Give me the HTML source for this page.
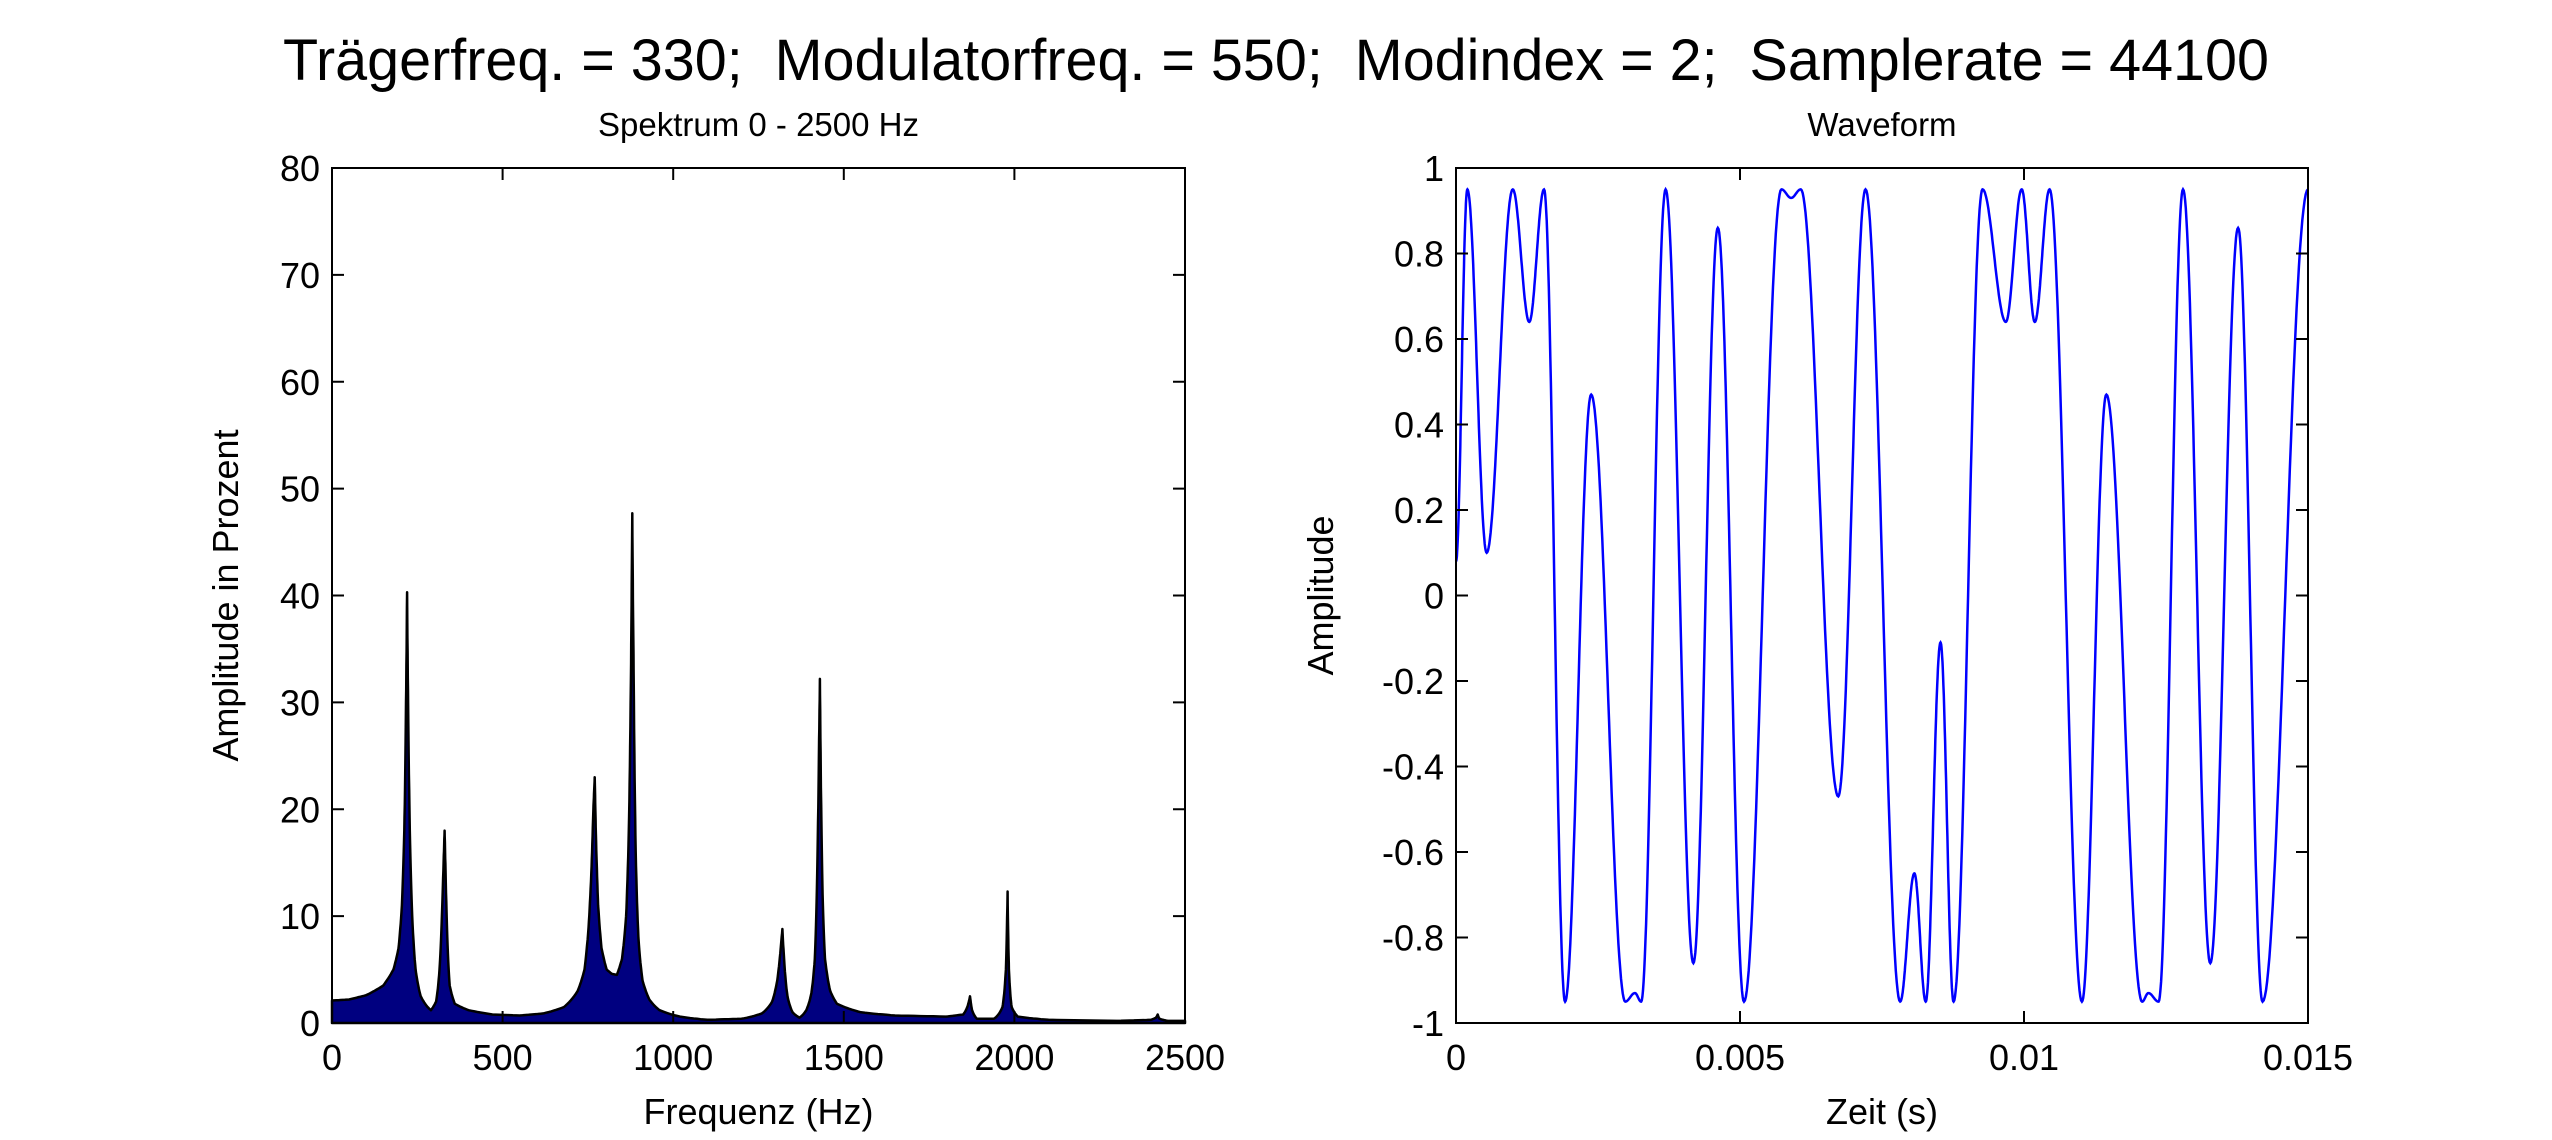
<!DOCTYPE html>
<html><head><meta charset="utf-8"><style>
html,body{margin:0;padding:0;background:#fff;}
svg{display:block;font-family:"Liberation Sans",sans-serif;}
</style></head><body>
<svg id="fig" width="2552" height="1140" viewBox="0 0 2552 1140" xmlns="http://www.w3.org/2000/svg">
<rect width="2552" height="1140" fill="#fff"/>
<text x="1276" y="80" font-size="58" text-anchor="middle" textLength="1986" lengthAdjust="spacingAndGlyphs">Trägerfreq. = 330;&#160; Modulatorfreq. = 550;&#160; Modindex = 2;&#160; Samplerate = 44100</text>
<g id="left"></g>
<g id="right"></g>
</svg>
<script>
// Spectrum data (Hz, percent)
const specFreq = [0,50,100,150,180,195,205,212,217,220,223,228,235,245,260,280,290,305,315,322,327,330,333,338,345,360,400,470,550,620,680,720,740,752,760,766,770,774,780,790,805,820,835,850,862,870,876,880,884,890,898,910,930,960,1020,1100,1200,1260,1290,1305,1315,1320,1325,1335,1350,1370,1390,1405,1415,1422,1427,1430,1433,1438,1445,1460,1480,1550,1650,1800,1850,1862,1870,1876,1890,1940,1965,1975,1980,1984,1992,2010,2100,2300,2400,2415,2420,2425,2450,2500];
const specAmp = [2.1,2.2,2.6,3.5,5,7,11,18,30,40.3,30,18,10,5,2.5,1.5,1.2,2,5,10,15,18,14,8,3.5,1.8,1.2,0.8,0.7,0.9,1.5,3,5,9,14,20,23,17,11,7,5,4.6,4.5,6,10,18,32,47.7,33,16,8,4,2.2,1.2,0.6,0.3,0.4,0.9,2,4,7,8.8,6,2.5,1,0.5,1.2,2.8,6,14,25,32.2,22,12,6,3,1.8,1,0.7,0.6,0.8,1.5,2.5,1.2,0.4,0.4,1.5,5,12.3,5,1.5,0.6,0.3,0.2,0.3,0.5,0.8,0.4,0.2,0.2];
const specXTicks = [0,500,1000,1500,2000,2500];
const specYTicks = [0,10,20,30,40,50,60,70,80];
// Waveform extrema (ms, amplitude)
const waveT = [0,0.20,0.54,1.00,1.29,1.55,1.92,2.38,2.98,3.15,3.26,3.69,4.18,4.61,5.07,5.73,5.90,6.07,6.73,7.21,7.82,8.07,8.27,8.53,8.76,9.27,9.68,9.96,10.19,10.45,11.02,11.45,12.08,12.19,12.37,12.80,13.28,13.77,14.20,15.0];
const waveY = [0.08,0.95,0.10,0.95,0.64,0.95,-0.95,0.47,-0.95,-0.93,-0.95,0.95,-0.86,0.86,-0.95,0.95,0.93,0.95,-0.47,0.95,-0.95,-0.65,-0.95,-0.11,-0.95,0.95,0.64,0.95,0.64,0.95,-0.95,0.47,-0.95,-0.93,-0.95,0.95,-0.86,0.86,-0.95,0.95];
const waveXTicks = [0,0.005,0.01,0.015];
const waveXLabels = ["0","0.005","0.01","0.015"];
const waveYTicks = [1,0.8,0.6,0.4,0.2,0,-0.2,-0.4,-0.6,-0.8,-1];
const waveYLabels = ["1","0.8","0.6","0.4","0.2","0","-0.2","-0.4","-0.6","-0.8","-1"];

const NS="http://www.w3.org/2000/svg";
function mk(tag,attrs,parent){const e=document.createElementNS(NS,tag);for(const k in attrs)e.setAttribute(k,attrs[k]);parent.appendChild(e);return e;}
const T=168,B=1023;

function axesFrame(g,L,R,xs,ys,xt,xl,yt,yl,title,xlab,ylab,ylabX){
  for(let i=0;i<xt.length;i++){
    const x=xs(xt[i]);
    const t1=mk('line',{x1:x,x2:x,y1:B,y2:B-12,stroke:'#000','stroke-width':2},g);
    
    
    const t2=mk('line',{x1:x,x2:x,y1:T,y2:T+12,stroke:'#000','stroke-width':2},g);
    
    
    const tx=mk('text',{x:x,y:1070,'font-size':36,'text-anchor':'middle'},g);
    tx.textContent=xl[i];
    
    
  }
  for(let i=0;i<yt.length;i++){
    const y=ys(yt[i]);
    const t1=mk('line',{x1:L,x2:L+12,y1:y,y2:y,stroke:'#000','stroke-width':2},g);
    
    
    const t2=mk('line',{x1:R,x2:R-12,y1:y,y2:y,stroke:'#000','stroke-width':2},g);
    
    
    const tx=mk('text',{x:L-12,y:y+13,'font-size':36,'text-anchor':'end'},g);
    tx.textContent=yl[i];
    
    
  }
  const box=mk('rect',{x:L,y:T,width:R-L,height:B-T,fill:'none',stroke:'#000','stroke-width':2},g);
  
  
  const tt=mk('text',{x:(L+R)/2,y:136,'font-size':33,'text-anchor':'middle'},g);
  tt.textContent=title;
  
  
  const xx=mk('text',{x:(L+R)/2,y:1124,'font-size':36,'text-anchor':'middle'},g);
  xx.textContent=xlab;
  
  
  const yy=mk('text',{x:0,y:0,'font-size':36,'text-anchor':'middle',transform:`translate(${ylabX},${(T+B)/2}) rotate(-90)`},g);
  yy.textContent=ylab;
  
  
}

// Left panel
(function(){
  const g=document.getElementById('left');
  const L=332,R=1185;
  const xs=v=>L+(v-0)/2500*(R-L);
  const ys=v=>B-(v/80)*(B-T);
  let d=`M${xs(specFreq[0])},${ys(0)} L${xs(specFreq[0])},${ys(specAmp[0])}`;
  for(let i=0;i<specFreq.length-1;i++){
    const f0=specFreq[i],f1=specFreq[i+1],a0=Math.max(specAmp[i],0.05),a1=Math.max(specAmp[i+1],0.05);
    const n=8;
    for(let k=1;k<=n;k++){
      const u=k/n;
      const f=f0+(f1-f0)*u;
      const a=Math.exp(Math.log(a0)+(Math.log(a1)-Math.log(a0))*u);
      d+=` L${xs(f).toFixed(1)},${ys(a).toFixed(1)}`;
    }
  }
  d+=` L${xs(specFreq[specFreq.length-1])},${ys(0)} Z`;
  const area=mk('path',{d:d,fill:'#000080',stroke:'#000','stroke-width':2.5,'stroke-linejoin':'round'},g);
  
  
  axesFrame(g,L,R,xs,ys,specXTicks,specXTicks.map(String),specYTicks,specYTicks.map(String),'Spektrum 0 - 2500 Hz','Frequenz (Hz)','Amplitude in Prozent',238);
})();

// Right panel
(function(){
  const g=document.getElementById('right');
  const L=1456,R=2308;
  const xs=v=>L+v/0.015*(R-L);
  const ys=v=>B-((v+1)/2)*(B-T);
  let pts=[];
  for(let i=0;i<waveT.length-1;i++){
    const t0=waveT[i]/1000,t1=waveT[i+1]/1000,a=waveY[i],b=waveY[i+1];
    const n=40;
    for(let k=0;k<n;k++){
      const u=k/n;
      const t=t0+(t1-t0)*u;
      const y=a+(b-a)*(1-Math.cos(Math.PI*u))/2;
      pts.push(xs(t).toFixed(1)+','+ys(y).toFixed(1));
    }
  }
  pts.push(xs(waveT[waveT.length-1]/1000).toFixed(1)+','+ys(waveY[waveY.length-1]).toFixed(1));
  const line=mk('polyline',{points:pts.join(' '),fill:'none',stroke:'#0000ff','stroke-width':2.5},g);
  
  
  axesFrame(g,L,R,xs,ys,waveXTicks,waveXLabels,waveYTicks,waveYLabels,'Waveform','Zeit (s)','Amplitude',1333);
})();
</script>
</body></html>
